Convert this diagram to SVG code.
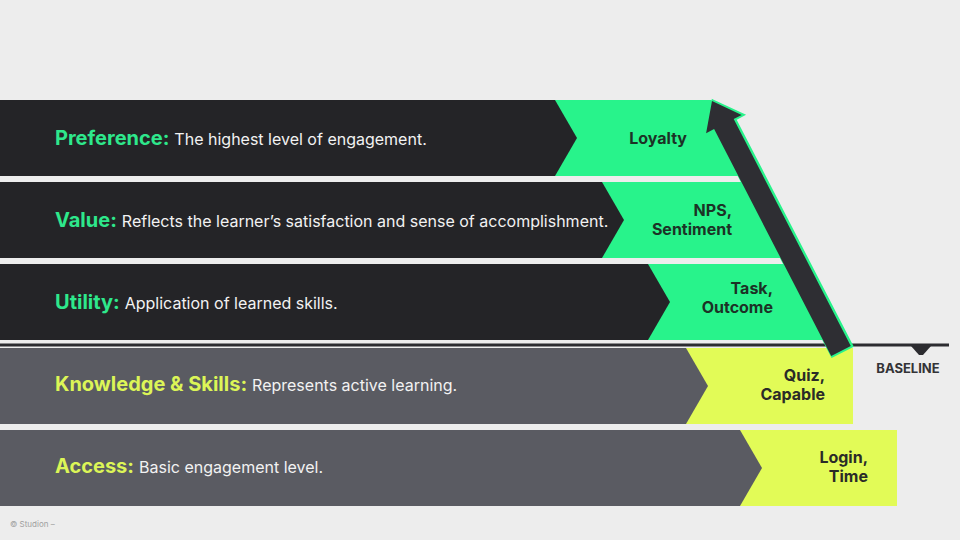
<svg xmlns="http://www.w3.org/2000/svg" width="960" height="540" viewBox="0 0 960 540">
<style>
.bg{fill:#ededed}
.dark{fill:#242427}
.gray{fill:#5a5b62}
.green{fill:#28f38b}
.yellow{fill:#e2fb57}
.lbl{font-family:Inter,"Liberation Sans",sans-serif;font-weight:700;font-size:20px}
.lg{fill:#2ee88c}
.ly{fill:#dcf557}
.desc{font-family:Inter,"Liberation Sans",sans-serif;font-weight:400;font-size:16px;fill:#f2f2f2}
.box{font-family:Inter,"Liberation Sans",sans-serif;font-weight:700;font-size:16px;text-anchor:end}
.bg-t{fill:#1c3226}
.by-t{fill:#2a2b28}
</style>
<rect class="bg" x="0" y="0" width="960" height="540"/>

<g id="row-preference">
  <polygon class="green" points="550,100 711.5,100 750.7,176 550,176"/>
  <polygon class="dark" points="0,100 555,100 577,138 555,176 0,176"/>
  <text class="lbl" x="55" y="145"><tspan class="lg">Preference:</tspan><tspan class="desc" dx="5">The highest level of engagement.</tspan></text>
  <text class="box bg-t" x="687" y="144">Loyalty</text>
</g>

<g id="row-value">
  <polygon class="green" points="597,182 753.8,182 793,258 597,258"/>
  <polygon class="dark" points="0,182 602,182 624,220 602,258 0,258"/>
  <text class="lbl" x="55" y="227"><tspan class="lg">Value:</tspan><tspan class="desc" dx="5">Reflects the learner’s satisfaction and sense of accomplishment.</tspan></text>
  <text class="box bg-t" x="732" y="216">NPS,</text>
  <text class="box bg-t" x="732" y="235">Sentiment</text>
</g>

<g id="row-utility">
  <polygon class="green" points="643,264 796,264 835.3,340 643,340"/>
  <polygon class="dark" points="0,264 648,264 670,302 648,340 0,340"/>
  <text class="lbl" x="55" y="309"><tspan class="lg">Utility:</tspan><tspan class="desc" dx="5">Application of learned skills.</tspan></text>
  <text class="box bg-t" x="773" y="294">Task,</text>
  <text class="box bg-t" x="773" y="313">Outcome</text>
</g>

<g id="baseline">
  <rect x="0" y="343.5" width="949" height="3" fill="#2c2c30"/>
  <polygon points="911,346 931,346 923,355 919,355" fill="#2c2c30"/>
  <text x="908" y="373" font-family="Inter,'Liberation Sans',sans-serif" font-weight="700" font-size="13" fill="#333336" text-anchor="middle">BASELINE</text>
</g>

<g id="row-knowledge">
  <rect class="yellow" x="680" y="348" width="173" height="76"/>
  <polygon class="gray" points="0,348 686,348 708,386 686,424 0,424"/>
  <text class="lbl" x="55" y="391"><tspan class="ly">Knowledge &amp; Skills:</tspan><tspan class="desc" dx="5">Represents active learning.</tspan></text>
  <text class="box by-t" x="825" y="381">Quiz,</text>
  <text class="box by-t" x="825" y="400">Capable</text>
</g>

<g id="row-access">
  <rect class="yellow" x="735" y="430" width="162" height="76"/>
  <polygon class="gray" points="0,430 740,430 762,468 740,506 0,506"/>
  <text class="lbl" x="55" y="473"><tspan class="ly">Access:</tspan><tspan class="desc" dx="5">Basic engagement level.</tspan></text>
  <text class="box by-t" x="868" y="463">Login,</text>
  <text class="box by-t" x="868" y="482">Time</text>
</g>

<g id="connectors">
  <polygon points="712,101 741.7,114.9 733.7,119.1 850.8,346 831.2,356 714.1,129.1 706.1,133.3" fill="#28f38b" stroke="#28f38b" stroke-width="3" stroke-linejoin="miter" transform="translate(1,0)"/>
  <polygon points="712,101 741.7,114.9 733.7,119.1 850.8,346 831.2,356 714.1,129.1 706.1,133.3" fill="#2e2e33"/>
</g>

<text x="10" y="527" font-family="Inter,'Liberation Sans',sans-serif" font-size="8" fill="#a0a0a0">© Studion –</text>
</svg>
